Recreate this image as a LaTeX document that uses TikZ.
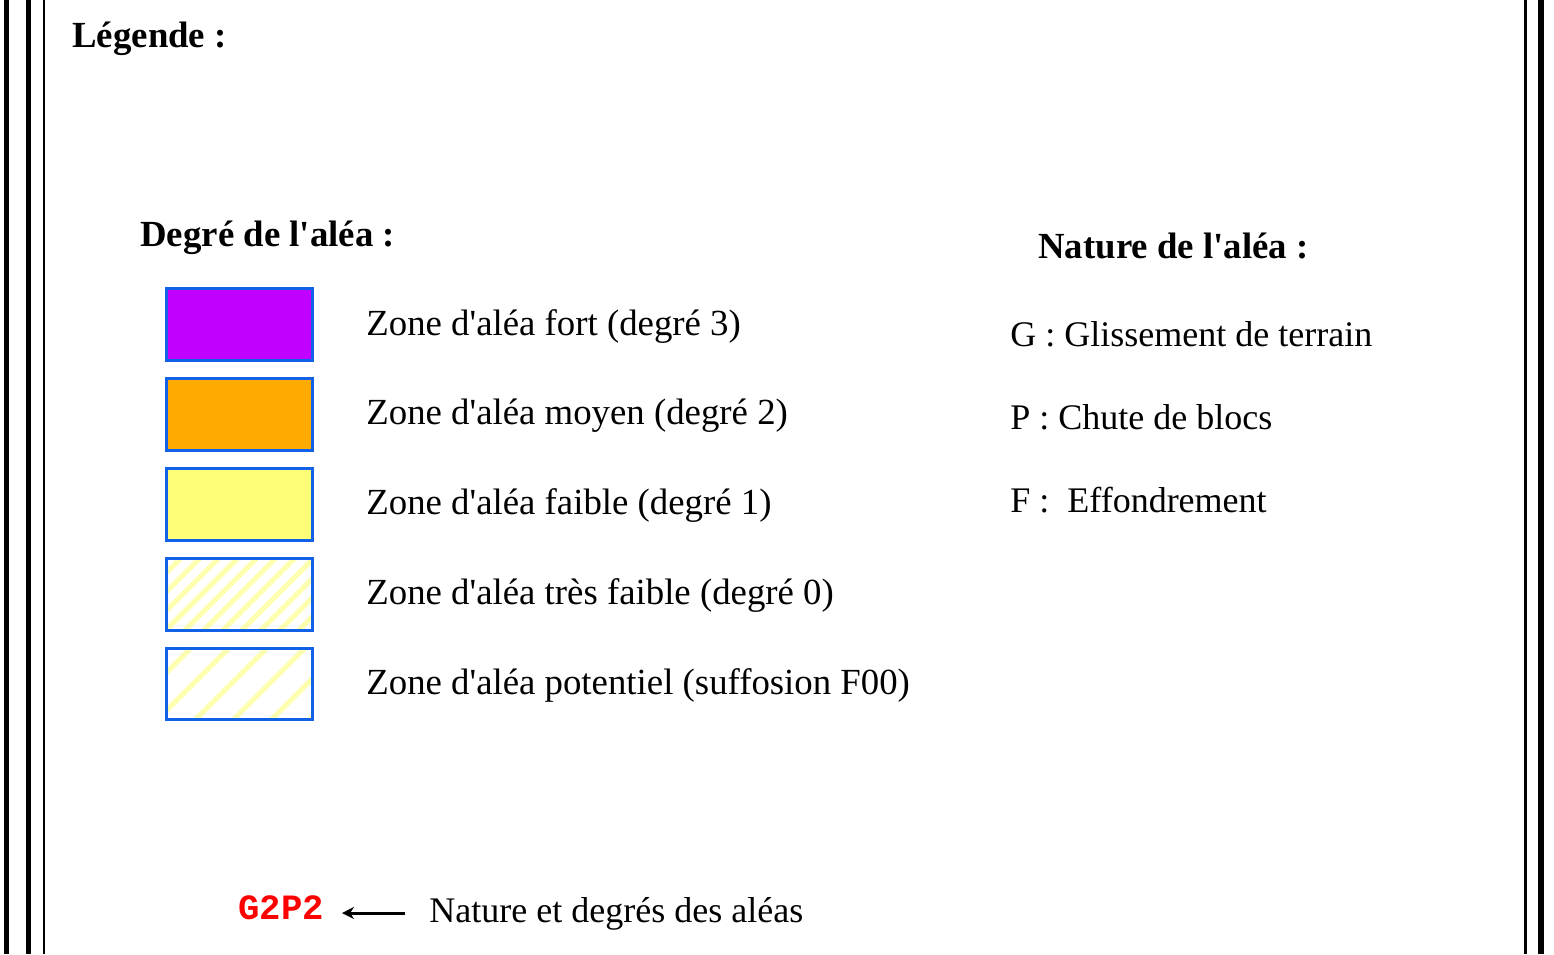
\documentclass[tikz,border=0pt]{standalone}
\usepackage{fontspec}
\usetikzlibrary{arrows.meta}
\setmainfont{Liberation Serif}
\newfontfamily\courfont{Liberation Mono}
\definecolor{bordblue}{HTML}{1060E8}
\definecolor{cfort}{HTML}{C000FF}
\definecolor{cmoyen}{HTML}{FFAA00}
\definecolor{cfaible}{HTML}{FFFF77}
\definecolor{hatchy}{HTML}{FFFFB0}
\definecolor{gred}{HTML}{FF0000}
\newcommand{\ap}{\textquotesingle}
\begin{document}
\begin{tikzpicture}[x=0.5pt,y=-0.5pt,
  txt/.style={anchor=base west,inner sep=0pt,font=\fontsize{18.4}{22}\selectfont},
  txtb/.style={anchor=base west,inner sep=0pt,font=\fontsize{18}{22}\selectfont},
  ttl/.style={anchor=base west,inner sep=0pt,font=\fontsize{18.4}{22}\selectfont\bfseries},
  swatch/.style={draw=bordblue,line width=1.5pt,minimum width=73pt,minimum height=36pt,inner sep=0pt,outer sep=0pt,anchor=north west}]
\useasboundingbox (0,0) rectangle (1554,954);
% frame lines
\draw[line width=2.6pt] (6.5,0) -- (6.5,954);
\draw[line width=2.6pt] (28.5,0) -- (28.5,954);
\draw[line width=1.1pt] (44,0) -- (44,954);
\draw[line width=1.3pt] (1525.5,0) -- (1525.5,954);
\draw[line width=2.8pt] (1541,0) -- (1541,954);
% titles
\node[ttl] (leg) at (72,47) {Légende :};
\node[ttl] (deg) at (140,246) {Degré de l\ap aléa :};
\node[ttl] (nat) at (1038,258) {Nature de l\ap aléa :};
% swatches
\node[swatch,fill=cfort] (b1) at (166.5,288.5) {};
\node[swatch,fill=cmoyen] (b2) at (166.5,378.5) {};
\node[swatch,fill=cfaible] (b3) at (166.5,468.5) {};
\begin{scope}
\clip (166.5,558.5) rectangle (312.5,629.5);
\foreach \i in {-6,...,12} {
  \draw[hatchy,line width=2.5pt] (165+19*\i,631) -- (165+19*\i+74,557);
}
\end{scope}
\node[swatch] (b4) at (166.5,558.5) {};
\begin{scope}
\clip (166.5,648.5) rectangle (312.5,718.5);
\foreach \i in {-3,...,6} {
  \draw[hatchy,line width=2.5pt] (165+38*\i-8,720) -- (165+38*\i+73-8,647);
}
\end{scope}
\node[swatch,minimum height=35.5pt] (b5) at (166.5,648.5) {};
% labels
\node[txt] (l1) at (366,335) {Zone d\ap aléa fort (degré 3)};
\node[txt] (l2) at (366,424) {Zone d\ap aléa moyen (degré 2)};
\node[txt] (l3) at (366,514) {Zone d\ap aléa faible (degré 1)};
\node[txt] (l4) at (366,604) {Zone d\ap aléa très faible (degré 0)};
\node[txt] (l5) at (366,694) {Zone d\ap aléa potentiel (suffosion F00)};
\node[txtb] (n1) at (1010,346) {G : Glissement de terrain};
\node[txtb] (n2) at (1010,429) {P : Chute de blocs};
\node[txtb] (n3) at (1010,512) {F :\ \ Effondrement};
% bottom
\node[anchor=base west,inner sep=0pt,text=gred,font=\fontsize{17.8}{20}\selectfont\courfont\bfseries] (g2p2) at (238,919) {G2P2};
\node[txtb] (nd) at (429,922) {Nature et degrés des aléas};
\coordinate (as) at (405,913);
\coordinate (ae) at (342,913);
\draw[line width=1.5pt,-{Stealth[length=6pt,width=6pt]}] (as) -- (ae);
\end{tikzpicture}
\end{document}
